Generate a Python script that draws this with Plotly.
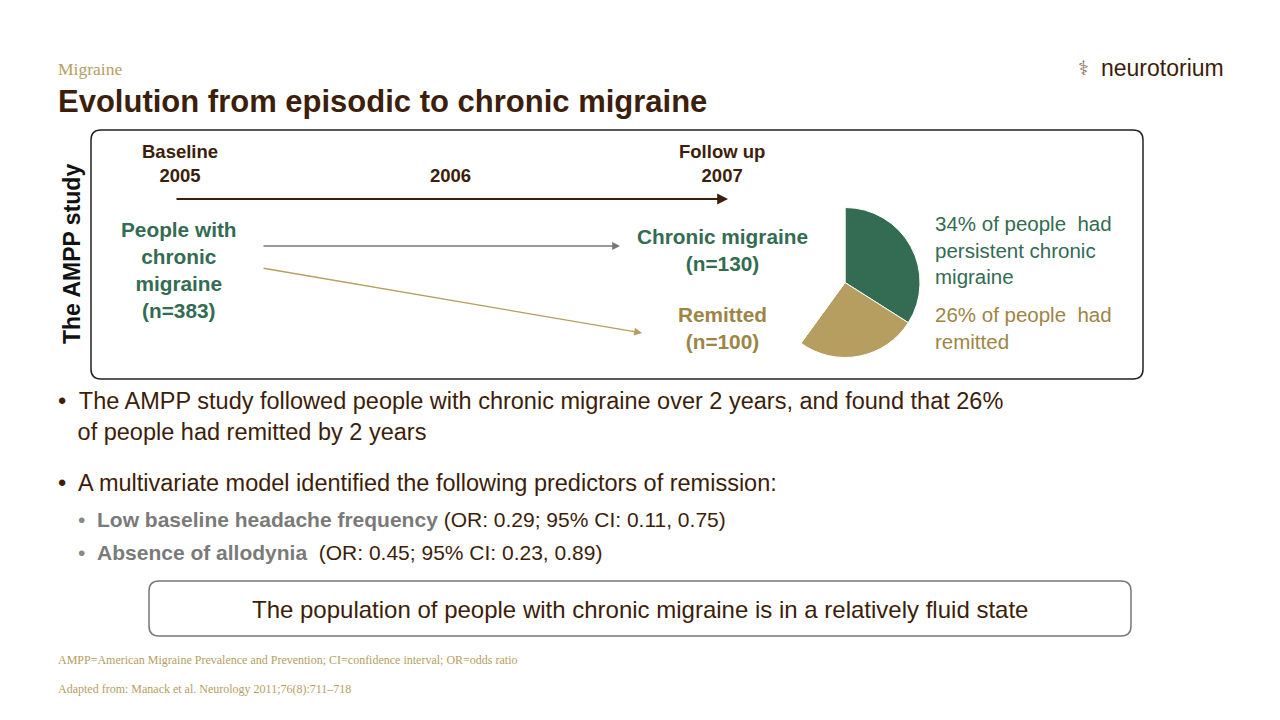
import plotly.graph_objects as go

pie_labels = ["Persistent chronic migraine", "Remitted", "Other"]
pie_values = [34, 26, 40]
pie_colors = ["#336B53", "#B59E60", "rgba(0,0,0,0)"]

BROWN = "#3C1E0A"
GREEN = "#336B53"
TAN = "#B59E60"
TANTXT = "#9C8545"
GREY = "#777777"
FONT = "Liberation Sans, Arial"


# page has an 8px body margin, so shift everything back
def px(x):
    return (x - 8) / 1280


def py(y):
    return 1 - (y - 8) / 720


def rounded(x0, y0, x1, y1, r, color, width):
    # rounded rectangle path in paper coords (y0 top, y1 bottom in screen px)
    rx, ry = r / 1280, r / 720
    a, b, c, d = px(x0), px(x1), py(y0), py(y1)
    path = (f"M{a+rx},{c} L{b-rx},{c} Q{b},{c} {b},{c-ry} L{b},{d+ry} Q{b},{d} {b-rx},{d} "
            f"L{a+rx},{d} Q{a},{d} {a},{d+ry} L{a},{c-ry} Q{a},{c} {a+rx},{c} Z")
    return dict(type="path", xref="paper", yref="paper", path=path, line=dict(color=color, width=width))


fig = go.Figure()
fig.add_trace(go.Pie(
    labels=pie_labels, values=pie_values, sort=False, direction="clockwise",
    rotation=0, marker=dict(colors=pie_colors, line=dict(color="white", width=1)),
    textinfo="none", hoverinfo="skip", showlegend=False,
    domain=dict(x=[px(770), px(920)], y=[py(358), py(207)]),
))

shapes = [
    rounded(91, 130, 1143, 379, 10, "#222222", 1.5),
    rounded(149, 581, 1131, 636, 10, "#777777", 1.5),
]

annotations = []


def text(x, y, s, size, color, anchor="left", bold=False, family=FONT, valign="middle"):
    if bold:
        s = "<b>" + s + "</b>"
    annotations.append(dict(x=px(x), y=py(y), xref="paper", yref="paper", text=s, showarrow=False,
                            xanchor=anchor, yanchor=valign, align=anchor if anchor != "center" else "center",
                            font=dict(size=size, color=color, family=family)))


def arrow(x0, y0, x1, y1, color, width=1.3):
    annotations.append(dict(x=px(x1), y=py(y1), xref="paper", yref="paper", ax=x0 - x1, ay=y0 - y1,
                            axref="pixel", ayref="pixel", text="", showarrow=True, arrowhead=2,
                            arrowsize=1.2, arrowwidth=width, arrowcolor=color))


text(56, 69, "Migraine", 17.5, TAN, family="Liberation Serif, Times New Roman")
text(56, 102, "Evolution from episodic to chronic migraine", 31, BROWN, bold=True)
text(1099, 68, "neurotorium", 23, BROWN)
text(1083, 68, "⚕", 20, "#8a6a55", anchor="center")

annotations.append(dict(x=px(72), y=py(254), xref="paper", yref="paper", text="<b>The AMPP study</b>",
                        showarrow=False, textangle=-90, xanchor="center", yanchor="middle",
                        font=dict(size=23, color="#111111", family=FONT)))

text(180, 163, "Baseline<br>2005", 18.5, BROWN, anchor="center", bold=True)
text(450, 175, "2006", 18.5, BROWN, anchor="center", bold=True)
text(722, 163, "Follow up<br>2007", 18.5, BROWN, anchor="center", bold=True)
arrow(175, 199, 728, 199, BROWN, 1.8)

text(179, 270, "People with<br>chronic<br>migraine<br>(n=383)", 20.8, GREEN, anchor="center", bold=True)
arrow(262, 246, 620, 246, GREY)
arrow(262, 268, 642, 333, TAN)
text(722, 250, "Chronic migraine<br>(n=130)", 20.8, GREEN, anchor="center", bold=True)
text(722, 328, "Remitted<br>(n=100)", 20.8, TANTXT, anchor="center", bold=True)

text(933, 250, "34% of people  had<br>persistent chronic<br>migraine", 20.5, GREEN)
text(933, 328, "26% of people  had<br>remitted", 20.5, TANTXT)

text(56, 416, "•  The AMPP study followed people with chronic migraine over 2 years, and found that 26%<br>   of people had remitted by 2 years", 23.5, BROWN)
text(56, 483, "•  A multivariate model identified the following predictors of remission:", 23.5, BROWN)
text(76, 519, "<span style='color:#888'>•</span>  <b><span style='color:#7a7a7a'>Low baseline headache frequency</span></b> (OR: 0.29; 95% CI: 0.11, 0.75)", 21, BROWN)
text(76, 552, "<span style='color:#888'>•</span>  <b><span style='color:#7a7a7a'>Absence of allodynia</span></b>  (OR: 0.45; 95% CI: 0.23, 0.89)", 21, BROWN)
text(640, 609, "The population of people with chronic migraine is in a relatively fluid state", 24, BROWN, anchor="center")

text(56, 660, "AMPP=American Migraine Prevalence and Prevention; CI=confidence interval; OR=odds ratio", 12, TAN,
     family="Liberation Serif, Times New Roman")
text(56, 689, "Adapted from: Manack et al. Neurology 2011;76(8):711–718", 12, TAN,
     family="Liberation Serif, Times New Roman")

fig.update_layout(width=1280, height=720, margin=dict(l=0, r=0, t=0, b=0),
                  paper_bgcolor="white", plot_bgcolor="white",
                  shapes=shapes, annotations=annotations)
fig.write_html("out.html")
